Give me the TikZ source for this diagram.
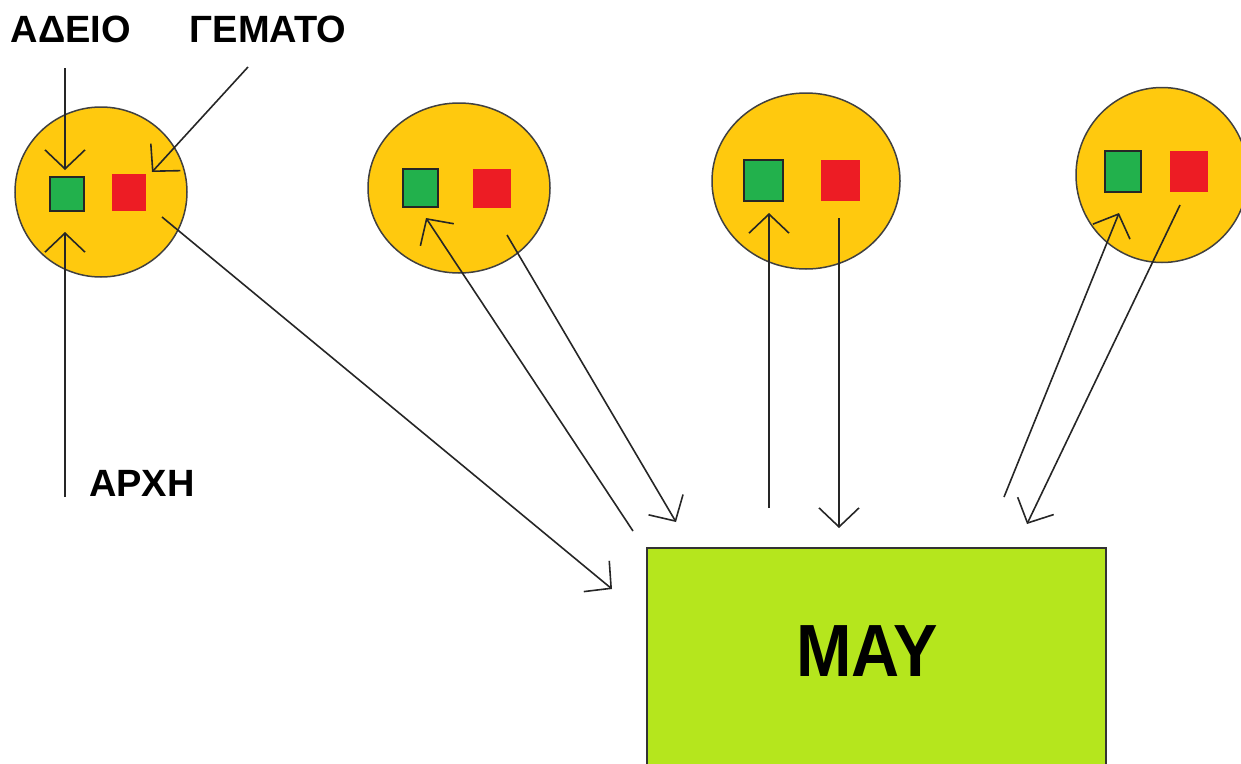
\documentclass[tikz,border=0pt]{standalone}
\usepackage{fontspec}
\setmainfont{Liberation Sans}
\usepackage{graphicx}
\usetikzlibrary{arrows.meta,shapes.geometric}
\definecolor{paintgold}{HTML}{FFC90E}
\definecolor{paintgreen}{HTML}{22B14C}
\definecolor{paintred}{HTML}{ED1C24}
\definecolor{paintlime}{HTML}{B5E61D}
\tikzset{
  bin/.style={ellipse,draw=black!75,line width=1.5pt,fill=paintgold,inner sep=0pt},
  emptybox/.style={rectangle,draw=black!85,line width=2pt,fill=paintgreen,inner sep=0pt},
  fullbox/.style={rectangle,fill=paintred,inner sep=0pt},
  lbl/.style={font=\fontsize{38}{40}\selectfont\bfseries,inner sep=0pt},
  arr/.style={line width=1.6pt,draw=black!85,-{Straight Barb[length=19pt,width=40pt,line width=1.6pt]}}
}
\begin{document}
\begin{tikzpicture}[x=1pt,y=1pt,yscale=-1,xscale=1]
\useasboundingbox (0,0) rectangle (1241,763);
\clip (0,0) rectangle (1241,763);

%Shape: Rectangle [id:mcu] 
\node[draw=black!80,line width=1.8pt,fill=paintlime,minimum width=459,minimum height=266,anchor=north] (mcu) at (876.5,547) {};
% Text Node
\node[font=\fontsize{74}{80}\selectfont\bfseries,inner sep=0pt] (may) at (867,651) {\scalebox{0.9}[1]{MAY}};

%Shape: Circles 
\node[bin,minimum width=172,minimum height=170] (c1) at (101,192) {};
\node[bin,minimum width=182,minimum height=170] (c2) at (459,188) {};
\node[bin,minimum width=188,minimum height=176] (c3) at (806,181) {};
\node[bin,minimum width=172,minimum height=175] (c4) at (1162,175) {};

%Shape: Squares 
\node[emptybox,minimum width=34,minimum height=34] (g1) at (67,194) {};
\node[fullbox,minimum width=34,minimum height=37] (r1) at (129,192.5) {};
\node[emptybox,minimum width=35,minimum height=38] (g2) at (420.5,188) {};
\node[fullbox,minimum width=38,minimum height=39] (r2) at (492,188.5) {};
\node[emptybox,minimum width=39,minimum height=41] (g3) at (763.5,180.5) {};
\node[fullbox,minimum width=39,minimum height=41] (r3) at (840.5,180.5) {};
\node[emptybox,minimum width=36,minimum height=41] (g4) at (1123,171.5) {};
\node[fullbox,minimum width=38,minimum height=41] (r4) at (1189,171.5) {};

% Text Node
\node[lbl] (adeio) at (71,29) {ΑΔΕΙΟ};
% Text Node
\node[lbl] (gemato) at (268,29) {ΓΕΜΑΤΟ};
% Text Node
\node[lbl] (arxh) at (142,483) {ΑΡΧΗ};

% arrow ends
\coordinate (e1) at (65,68);   \coordinate (t1) at (65,170);
\coordinate (e2) at (248,67);  \coordinate (t2) at (152,172);
\coordinate (e3) at (65,497);  \coordinate (t3) at (65,232);
\coordinate (e4) at (162,217); \coordinate (t4) at (612,589);
\coordinate (e5) at (633,531); \coordinate (t5) at (426,218);
\coordinate (e6) at (507,235); \coordinate (t6) at (676,522);
\coordinate (e7) at (769,508); \coordinate (t7) at (769,213);
\coordinate (e8) at (839,218); \coordinate (t8) at (839,528);
\coordinate (e9) at (1004,497); \coordinate (t9) at (1119,213);
\coordinate (e10) at (1180,205); \coordinate (t10) at (1027,524);

\draw[arr] (e1) -- (t1);
\draw[arr] (e2) -- (t2);
\draw[arr] (e3) -- (t3);
\draw[arr] (e4) -- (t4);
\draw[arr] (e5) -- (t5);
\draw[arr] (e6) -- (t6);
\draw[arr] (e7) -- (t7);
\draw[arr] (e8) -- (t8);
\draw[arr] (e9) -- (t9);
\draw[arr] (e10) -- (t10);
\end{tikzpicture}
\end{document}
